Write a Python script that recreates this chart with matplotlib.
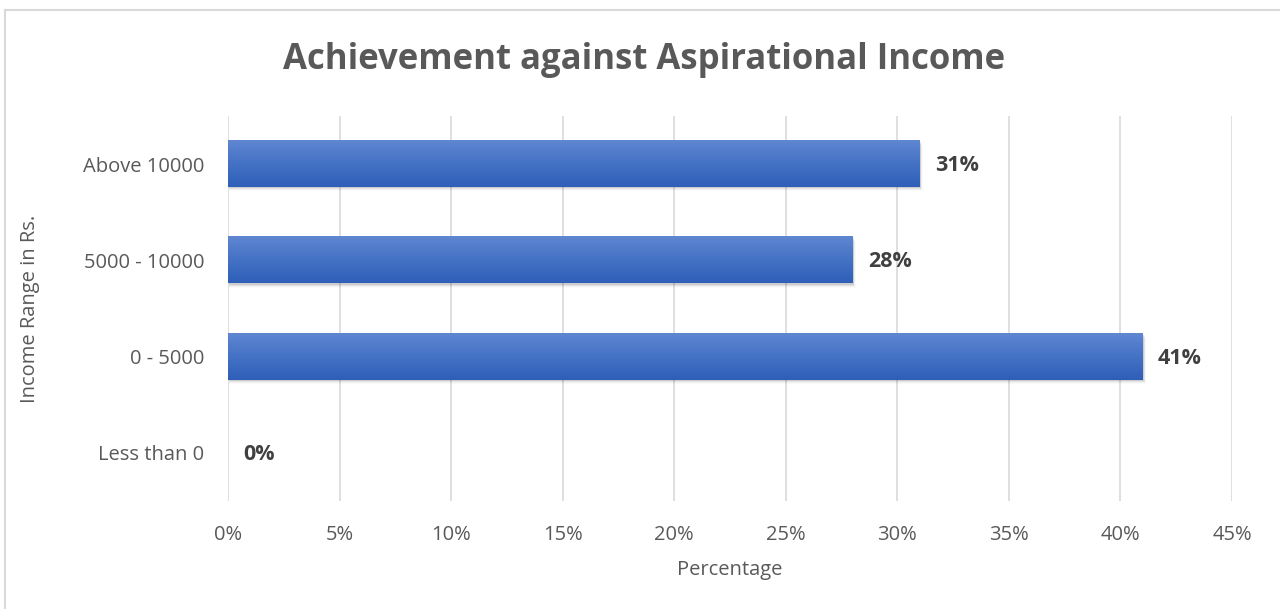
import numpy as np
import matplotlib
matplotlib.use("Agg")
import matplotlib.pyplot as plt
from matplotlib.colors import LinearSegmentedColormap
from matplotlib.patches import Rectangle
from matplotlib.lines import Line2D

# Data
categories = ["Less than 0", "0 - 5000", "5000 - 10000", "Above 10000"]
values = [0, 41, 28, 31]
x_ticks = [0, 5, 10, 15, 20, 25, 30, 35, 40, 45]
x_tick_labels = [f"{t}%" for t in x_ticks]

title = "Achievement against Aspirational Income"
x_label = "Percentage"
y_label = "Income Range in Rs."

FONT = "Open Sans"
TEXT_GREY = "#595959"

W, H = 1280, 609
fig = plt.figure(figsize=(W / 100, H / 100), dpi=100)
fig.patch.set_facecolor("white")

# chart frame: top and left edges
fx, fy = 5 / W, 1 - 10 / H
fig.add_artist(Line2D([fx, fx], [0, fy], transform=fig.transFigure,
                      color="#d9d9d9", linewidth=1.5))
fig.add_artist(Line2D([fx, 1], [fy, fy], transform=fig.transFigure,
                      color="#d9d9d9", linewidth=1.5))

left, right = 228 / W, 1232 / W
bottom, top = 1 - 501 / H, 1 - 116 / H
ax = fig.add_axes([left, bottom, right - left, top - bottom])

ax.set_xticks(x_ticks)
ax.set_xticklabels(x_tick_labels)
ax.set_yticks(range(len(categories)))
ax.set_yticklabels(categories)

for s in ax.spines.values():
    s.set_visible(False)
ax.tick_params(axis="both", length=0, labelsize=14.5, labelcolor=TEXT_GREY)
ax.tick_params(axis="x", pad=17)
ax.tick_params(axis="y", pad=17)
for lab in ax.get_xticklabels() + ax.get_yticklabels():
    lab.set_family(FONT)

ax.grid(axis="x", color="#d9d9d9", linewidth=1.2, zorder=0)
ax.set_axisbelow(True)

# gradient bars
cmap = LinearSegmentedColormap.from_list("barfill", ["#2e5eb8", "#4472c4", "#5f87d1"])
grad = np.linspace(0, 1, 256).reshape(-1, 1)
bar_h = 0.48
for i, v in enumerate(values):
    if v > 0:
        # soft drop shadow
        for k, a in enumerate([0.09, 0.06, 0.035, 0.02]):
            off = 0.012 + 0.01 * k
            ax.add_patch(Rectangle((0.05, i - bar_h / 2 - off), v + 0.03 * k, bar_h,
                                   facecolor="#000000", alpha=a, edgecolor="none", zorder=1))
        ax.imshow(grad, cmap=cmap, aspect="auto", origin="lower",
                  extent=(0, v, i - bar_h / 2, i + bar_h / 2), zorder=2,
                  interpolation="bilinear")
    ax.annotate(f"{v}%", xy=(v, i), xytext=(11, -1), textcoords="offset points",
                ha="left", va="center", fontsize=15.5, fontweight="bold",
                color="#404040", family=FONT)
ax.set_xlim(0, 45)
ax.set_ylim(-0.5, len(categories) - 0.5)

ax.set_xlabel(x_label, fontsize=14.5, color=TEXT_GREY, family=FONT)
ax.xaxis.set_label_coords(0.5, -(570 - 501) / (501 - 116))
ax.xaxis.label.set_va("center")
ax.set_ylabel(y_label, fontsize=14.5, color=TEXT_GREY, family=FONT)
ax.yaxis.set_label_coords((30 - 228) / (1232 - 228), 0.5)
ax.yaxis.label.set_va("center")

fig.text(644 / W, 1 - 60 / H, title, ha="center", va="center", fontsize=25,
         fontweight="bold", color=TEXT_GREY, family=FONT)

fig.savefig("out.png", dpi=100, facecolor="white")
